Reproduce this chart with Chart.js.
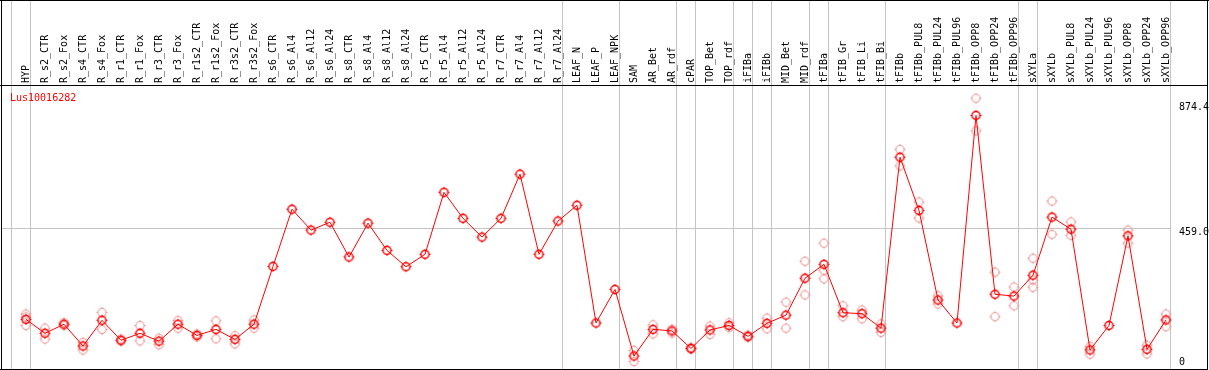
<!DOCTYPE html>
<html>
<head>
<meta charset="utf-8">
<title>Lus10016282</title>
<script src="https://cdn.jsdelivr.net/npm/chart.js@4.4.1/dist/chart.umd.min.js"></script>
<style>
  html, body { margin: 0; padding: 0; background: #fff; }
  canvas { display: block; }
</style>
</head>
<body>
<canvas id="exprChart" width="1209" height="370"></canvas>
<script>
const geneId = "Lus10016282";

const categories = [
  "HYP", "R_s2_CTR", "R_s2_Fox", "R_s4_CTR", "R_s4_Fox", "R_r1_CTR", "R_r1_Fox",
  "R_r3_CTR", "R_r3_Fox", "R_r1s2_CTR", "R_r1s2_Fox", "R_r3s2_CTR", "R_r3s2_Fox",
  "R_s6_CTR", "R_s6_Al4", "R_s6_Al12", "R_s6_Al24", "R_s8_CTR", "R_s8_Al4", "R_s8_Al12",
  "R_s8_Al24", "R_r5_CTR", "R_r5_Al4", "R_r5_Al12", "R_r5_Al24", "R_r7_CTR", "R_r7_Al4",
  "R_r7_Al12", "R_r7_Al24", "LEAF_N", "LEAF_P", "LEAF_NPK", "SAM", "AR_Bet", "AR_rdf",
  "cPAR", "TOP_Bet", "TOP_rdf", "iFIBa", "iFIBb", "MID_Bet", "MID_rdf", "tFIBa",
  "tFIB_Gr", "tFIB_Li", "tFIB_Bi", "tFIBb", "tFIBb_PUL8", "tFIBb_PUL24", "tFIBb_PUL96",
  "tFIBb_OPP8", "tFIBb_OPP24", "tFIBb_OPP96", "sXYLa", "sXYLb", "sXYLb_PUL8",
  "sXYLb_PUL24", "sXYLb_PUL96", "sXYLb_OPP8", "sXYLb_OPP24", "sXYLb_OPP96"
];

// mean expression per sample (dark red markers, joined by the line)
const meanValues = [
  158, 112, 142, 70, 155, 89, 112, 86, 142, 105, 125, 92, 142,
  333, 522, 453, 479, 364, 476, 386, 332, 373, 578, 492, 430, 492, 638, 373, 483,
  535, 146, 257, 37, 125, 120, 62, 123, 138, 102, 145, 172, 294, 340,
  180, 177, 129, 694, 518, 222, 146, 832, 241, 235, 304, 496, 456, 57, 138, 434, 59, 156
];

// single replicates (light markers), one list per sample
const replicateValues = [
  [176, 166, 138], [129, 93], [147, 137], [82, 57], [181, 125], [93, 86], [138, 87],
  [96, 74], [154, 129], [110, 100], [153, 94], [104, 77], [156, 129],
  [], [], [], [], [], [], [], [], [], [], [], [], [], [], [], [],
  [], [], [], [55, 19], [140, 110], [126, 113], [66, 59], [136, 108], [147, 131],
  [106, 98], [162, 127], [215, 129], [350, 239], [410, 320, 292],
  [203, 167], [189, 160], [143, 115], [720, 665], [546, 493], [236, 209], [],
  [889, 781], [314, 167], [265, 203], [360, 288, 264], [549, 439], [480, 436],
  [68, 43], [], [453, 410], [73, 44], [176, 134]
];

const yTickValues = [0, 459.0, 874.4];
const yTickLabels = ["0", "459.0", "874.4"];

// sample index after which a grey separator is drawn
const groupBreaks = [-1, 0, 28, 31, 34, 35, 37, 38, 39, 41, 42, 45, 52, 53, 60];

Chart.defaults.font.family = "'DejaVu Sans Mono', monospace";
Chart.defaults.font.size = 10;
Chart.defaults.color = "#000";

function makeMarker(color, lineWidth) {
  const c = document.createElement("canvas");
  c.width = 15;
  c.height = 15;
  const g = c.getContext("2d");
  g.strokeStyle = color;
  g.lineWidth = lineWidth;
  g.beginPath();
  g.arc(7.5, 7.5, 4, 0, Math.PI * 2);
  g.stroke();
  g.lineWidth = 1;
  g.beginPath();
  g.moveTo(7.5, 2); g.lineTo(7.5, 3.5);
  g.moveTo(7.5, 11.5); g.lineTo(7.5, 13);
  g.moveTo(2, 7.5); g.lineTo(3.5, 7.5);
  g.moveTo(11.5, 7.5); g.lineTo(13, 7.5);
  g.stroke();
  return c;
}

const meanMarker = makeMarker("#ff0000", 1.5);
const repMarker = makeMarker("#ec9a9a", 1.1);

const meanPoints = meanValues.map((v, i) => ({ x: i, y: v }));
const repPoints = [];
replicateValues.forEach((list, i) => {
  list.forEach(v => repPoints.push({ x: i, y: v }));
});

// no extra room around the plot: the frame is drawn by hand
function noPadding(s) {
  s.paddingLeft = 0;
  s.paddingRight = 0;
  s.paddingTop = 0;
  s.paddingBottom = 0;
}

// grey separators, outer frame and gene id
const framePlugin = {
  id: "frame",
  beforeDatasetsDraw(chart) {
    const ctx = chart.ctx;
    const xs = chart.scales.x;
    ctx.save();
    ctx.strokeStyle = "#c4c4c4";
    ctx.lineWidth = 1;
    groupBreaks.forEach(k => {
      const px = Math.round(xs.getPixelForValue(k + 0.2)) + 0.5;
      ctx.beginPath();
      ctx.moveTo(px, 0);
      ctx.lineTo(px, 369);
      ctx.stroke();
    });
    ctx.restore();
  },
  afterDraw(chart) {
    const ctx = chart.ctx;
    ctx.save();
    ctx.fillStyle = "#000";
    ctx.fillRect(0, 0, 1209, 1);      // top
    ctx.fillRect(0, 85, 1208, 1);     // header line
    ctx.fillRect(0, 369, 1208, 1);    // bottom
    ctx.fillRect(1, 0, 1, 370);       // left
    ctx.fillRect(1207, 0, 1, 370);    // right
    ctx.fillStyle = "#ff0000";
    ctx.font = "10px 'DejaVu Sans Mono', monospace";
    ctx.textBaseline = "alphabetic";
    ctx.fillText(geneId, 10, 101);
    ctx.restore();
  }
};

const ctx = document.getElementById("exprChart").getContext("2d");

const chart = new Chart(ctx, {
  type: "line",
  data: {
    datasets: [
      {
        label: "mean",
        data: meanPoints,
        borderColor: "#ff0000",
        borderWidth: 1,
        pointStyle: meanMarker,
        pointRadius: 5,
        tension: 0,
        clip: false
      },
      {
        label: "replicates",
        data: repPoints,
        showLine: false,
        pointStyle: repMarker,
        pointRadius: 5,
        clip: false
      }
    ]
  },
  options: {
    responsive: false,
    devicePixelRatio: 1,
    animation: false,
    layout: { autoPadding: false, padding: { left: 1, right: 0, top: 0, bottom: 1 } },
    plugins: {
      legend: { display: false },
      tooltip: { enabled: false }
    },
    scales: {
      x: {
        type: "linear",
        position: "top",
        min: -25 / 19,
        max: 1144 / 19,
        afterFit: s => { s.height = 86; noPadding(s); },
        afterBuildTicks: s => { s.ticks = categories.map((c, i) => ({ value: i })); },
        grid: { display: false, drawTicks: false },
        border: { display: false },
        ticks: {
          autoSkip: false,
          minRotation: 90,
          maxRotation: 90,
          padding: 3,
          labelOffset: 12,
          callback: v => categories[v]
        }
      },
      y: {
        type: "linear",
        position: "right",
        min: -5.95,
        max: 929.3,
        afterFit: s => { s.width = 39; noPadding(s); },
        afterBuildTicks: s => {
          s.ticks = yTickValues.map(v => ({ value: Math.max(v, s.min + 38) }));
        },
        grid: {
          drawTicks: false,
          color: c => (c.tick && c.tick.value === 459 ? "#c4c4c4" : "rgba(0,0,0,0)")
        },
        border: { display: false },
        ticks: {
          padding: 9,
          labelOffset: 4.5,
          callback: (v, i) => yTickLabels[i]
        }
      }
    }
  },
  plugins: [framePlugin]
});
</script>
</body>
</html>
